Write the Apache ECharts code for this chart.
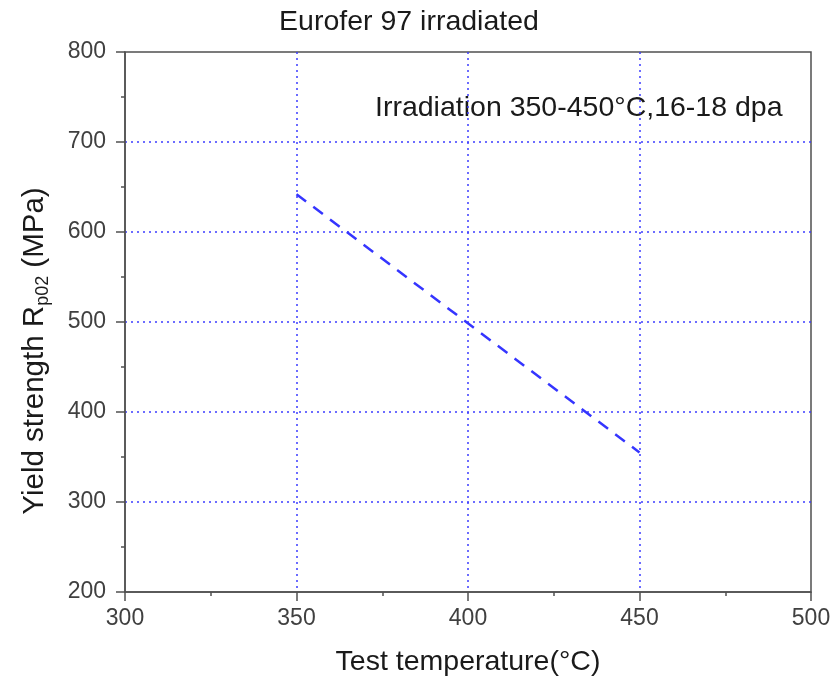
<!DOCTYPE html>
<html>
<head>
<meta charset="utf-8">
<script src="https://cdn.jsdelivr.net/npm/echarts@6/dist/echarts.min.js"></script>
<style>html,body{margin:0;padding:0;background:#fff;}#c{width:840px;height:681px;}</style>
</head>
<body>
<div id="c"></div>
<script>
const temperatures = [350, 450];
const yieldStrength = [642, 355];
const titleText = 'Eurofer 97 irradiated';
const noteText = 'Irradiation 350-450°C,16-18 dpa';
const xName = 'Test temperature(°C)';
const yNameMain = 'Yield strength R';
const yNameSub = 'p02';
const yNameUnit = ' (MPa)';

const chart = echarts.init(document.getElementById('c'));
const font = 'Liberation Sans, Arial, sans-serif';
const axisCol = '#505050';
const labelCol = '#404040';
const textCol = '#1a1a1a';
const gridCol = '#3c3cff';

chart.setOption({
  backgroundColor: '#ffffff',
  animation: false,
  grid: {left: 125, right: 29, top: 52, bottom: 89, show: true, borderColor: axisCol, borderWidth: 1.5, containLabel: false},
  xAxis: {
    type: 'value', min: 300, max: 500, interval: 50,
    axisLine: {show: true, onZero: false, lineStyle: {color: axisCol, width: 1.5}},
    axisTick: {show: true, length: 9, lineStyle: {color: axisCol, width: 1.5}},
    minorTick: {show: true, splitNumber: 2, length: 4, lineStyle: {color: axisCol, width: 1.5}},
    axisLabel: {fontFamily: font, fontSize: 23, color: labelCol, margin: 15},
    splitLine: {show: true, showMinLine: false, showMaxLine: false, lineStyle: {color: gridCol, type: [2, 4], width: 1.5}}
  },
  yAxis: {
    type: 'value', min: 200, max: 800, interval: 100,
    axisLine: {show: true, onZero: false, lineStyle: {color: axisCol, width: 1.5}},
    axisTick: {show: true, length: 9, lineStyle: {color: axisCol, width: 1.5}},
    minorTick: {show: true, splitNumber: 2, length: 4, lineStyle: {color: axisCol, width: 1.5}},
    axisLabel: {fontFamily: font, fontSize: 23, color: labelCol, margin: 19},
    splitLine: {show: true, showMinLine: false, showMaxLine: false, lineStyle: {color: gridCol, type: [2, 4], width: 1.5}}
  },
  graphic: [
    {type: 'text', x: 409, y: 22,
     style: {text: titleText, fontFamily: font, fontSize: 28.5, fill: textCol, align: 'center', verticalAlign: 'middle'}},
    {type: 'text', x: 375, y: 108,
     style: {text: noteText, fontFamily: font, fontSize: 28.5, fill: textCol, align: 'left', verticalAlign: 'middle'}},
    {type: 'text', x: 468, y: 662,
     style: {text: xName, fontFamily: font, fontSize: 28.5, fill: textCol, align: 'center', verticalAlign: 'middle'}},
    {type: 'text', x: 35, y: 351, rotation: Math.PI / 2,
     style: {
       text: '{a|' + yNameMain + '}{b|' + yNameSub + '}{a|' + yNameUnit + '}',
       align: 'center', verticalAlign: 'middle',
       rich: {
         a: {fontFamily: font, fontSize: 29.5, fill: textCol, verticalAlign: 'middle'},
         b: {fontFamily: font, fontSize: 18, fill: textCol, verticalAlign: 'bottom', padding: [16, 0, 0, 0]}
       }
     }}
  ],
  series: [{
    type: 'line',
    data: temperatures.map((t, i) => [t, yieldStrength[i]]),
    showSymbol: false, symbol: 'none',
    lineStyle: {color: '#3535ff', width: 2.5, type: [12, 9]}
  }]
});
</script>
</body>
</html>
